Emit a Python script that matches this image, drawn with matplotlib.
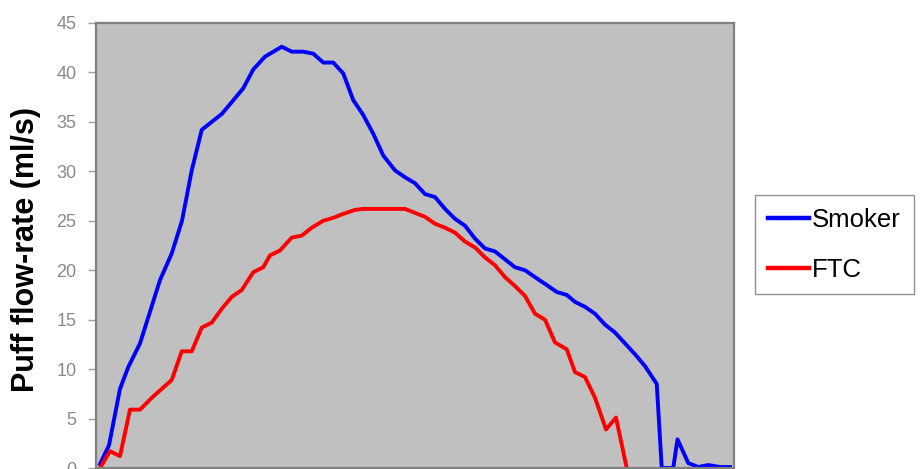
import matplotlib.pyplot as plt

# Puff flow-rate profiles, time in seconds
smoker_time = [0.0, 0.036, 0.08, 0.113, 0.16, 0.2, 0.24, 0.287, 0.328, 0.367,
               0.407, 0.447, 0.487, 0.527, 0.573, 0.613, 0.66, 0.727, 0.767, 0.813,
               0.853, 0.893, 0.933, 0.973, 1.013, 1.053, 1.093, 1.133, 1.18, 1.22,
               1.26, 1.30, 1.34, 1.38, 1.42, 1.46, 1.50, 1.54, 1.58, 1.62,
               1.66, 1.70, 1.74, 1.787, 1.827, 1.867, 1.90, 1.94, 1.98, 2.02,
               2.06, 2.10, 2.14, 2.18, 2.227, 2.247, 2.293, 2.31, 2.353, 2.393,
               2.433, 2.48, 2.52]
smoker_flow = [0.4, 2.3, 8.0, 10.2, 12.6, 15.8, 19.0, 21.7, 25.0, 30.1,
               34.2, 35.0, 35.8, 37.0, 38.4, 40.3, 41.6, 42.6, 42.1, 42.1,
               41.9, 41.0, 41.0, 39.9, 37.2, 35.7, 33.8, 31.6, 30.1, 29.4,
               28.8, 27.7, 27.4, 26.2, 25.2, 24.5, 23.2, 22.2, 21.9, 21.1,
               20.3, 20.0, 19.3, 18.5, 17.8, 17.5, 16.8, 16.3, 15.6, 14.5,
               13.7, 12.6, 11.5, 10.3, 8.5, 0.0, 0.0, 2.9, 0.5, 0.1,
               0.3, 0.1, 0.1]

ftc_time = [0.0, 0.04, 0.08, 0.12, 0.16, 0.207, 0.247, 0.287, 0.327, 0.367,
            0.407, 0.447, 0.487, 0.527, 0.567, 0.613, 0.653, 0.68, 0.72, 0.767,
            0.807, 0.847, 0.893, 0.933, 0.973, 1.02, 1.053, 1.22, 1.26, 1.30,
            1.34, 1.38, 1.42, 1.46, 1.50, 1.54, 1.58, 1.62, 1.66, 1.70,
            1.74, 1.78, 1.82, 1.867, 1.90, 1.94, 1.98, 2.024, 2.064, 2.107]
ftc_flow = [0.0, 1.7, 1.2, 5.9, 5.9, 7.1, 8.0, 8.9, 11.8, 11.8,
            14.2, 14.7, 16.1, 17.3, 18.0, 19.8, 20.3, 21.5, 22.0, 23.3,
            23.5, 24.3, 25.0, 25.3, 25.7, 26.1, 26.2, 26.2, 25.8, 25.4,
            24.7, 24.3, 23.8, 22.9, 22.3, 21.3, 20.5, 19.3, 18.4, 17.4,
            15.6, 15.0, 12.7, 12.0, 9.7, 9.2, 7.1, 3.9, 5.1, 0.0]

y_ticks = [0, 5, 10, 15, 20, 25, 30, 35, 40, 45]

W, H = 921, 469
fig = plt.figure(figsize=(W / 100, H / 100), dpi=100)
fig.patch.set_facecolor("white")

ax = fig.add_axes([96 / W, 1 - 468 / H, (734 - 96) / W, (468 - 23) / H])
ax.set_facecolor("#c0c0c0")

ax.plot(smoker_time, smoker_flow, color="#0000ff", lw=2.8, label="Smoker",
        solid_joinstyle="round")
ax.plot(ftc_time, ftc_flow, color="#ff0000", lw=2.8, label="FTC",
        solid_joinstyle="round")

ax.set_xlim(-0.016, 2.536)
ax.set_ylim(0, 45)

ax.set_yticks(y_ticks)
ax.tick_params(axis="y", length=6, width=1, color="#a0a0a0", pad=8,
               labelsize=13, labelcolor="#8a8a8a")
for lab in ax.get_yticklabels():
    lab.set_fontfamily(["Liberation Sans", "DejaVu Sans"])
ax.tick_params(axis="x", bottom=False, labelbottom=False)

for side in ["top", "right", "left", "bottom"]:
    ax.spines[side].set_color("#808080")
    ax.spines[side].set_linewidth(1.6)

fig.text(26 / W, 1 - 250 / H, "Puff flow-rate (ml/s)", rotation=90,
         ha="center", va="center", fontsize=22, fontweight="bold",
         family=["Liberation Sans", "DejaVu Sans"], color="black")

leg = ax.legend(loc="upper left", bbox_to_anchor=(755 / W, 1 - 195 / H),
                bbox_transform=fig.transFigure, borderaxespad=0,
                frameon=True, fancybox=False, framealpha=1,
                edgecolor="#909090", handlelength=1.6, handletextpad=0.12,
                borderpad=0.5, labelspacing=1.0,
                prop={"family": ["Liberation Sans", "DejaVu Sans"],
                      "size": 18.5})
leg.get_frame().set_linewidth(1.0)
for line in leg.get_lines():
    line.set_linewidth(3.2)

fig.savefig("out.png", dpi=100, facecolor="white")
